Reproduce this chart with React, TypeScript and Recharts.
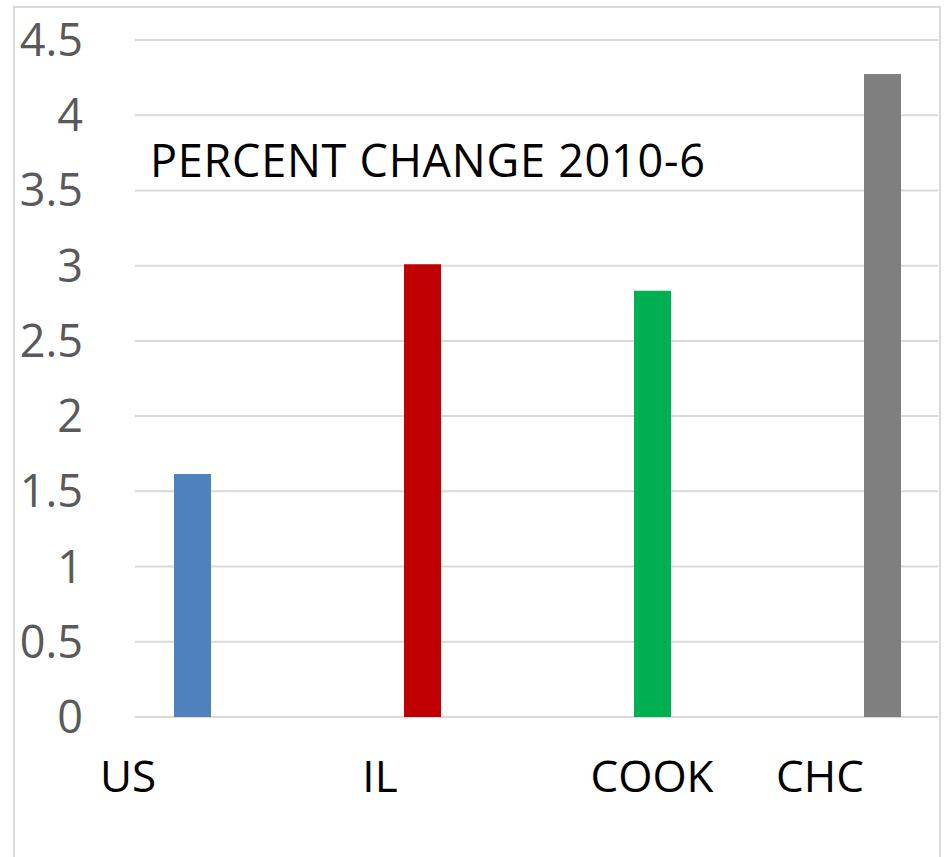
import React from "react";
import { BarChart, Bar, XAxis, YAxis, CartesianGrid, Cell } from "recharts";

const regions = ["US", "IL", "COOK", "CHC"];
const percentChange = [1.615, 3.01, 2.834, 4.274];
const barColors = ["#4f81bd", "#c00000", "#00b050", "#7f7f7f"];
const yTicks = [0, 0.5, 1, 1.5, 2, 2.5, 3, 3.5, 4, 4.5];

// the excel labels don't sit under their bars, nudge them by hand
const labelNudge = [-64, -42, 0, -62];

const FONT = "'Open Sans', 'Noto Sans', sans-serif";

const chartData = regions.map((name, i) => ({ name, value: percentChange[i] }));

const XTick: React.FC<any> = ({ x, y, payload, index }) => (
    <text
        x={x + (labelNudge[index] ?? 0)}
        y={y + 75}
        textAnchor="middle"
        fill="#000"
        fontFamily={FONT}
        fontSize={44}
    >
        {payload.value}
    </text>
);

export default function App() {
    return (
        <div style={{ position: "absolute", left: 0, top: 0, width: 945, height: 857, overflow: "hidden", background: "#fff" }}>
            <div
                style={{
                    position: "absolute",
                    left: 13,
                    top: 6,
                    width: 924,
                    height: 880,
                    border: "2px solid #d9d9d9",
                }}
            />
            <div style={{ position: "absolute", left: 0, top: 0 }}>
                <BarChart
                    width={945}
                    height={857}
                    data={chartData}
                    margin={{ top: 40, right: 7, left: 0, bottom: 0 }}
                >
                    <CartesianGrid vertical={false} stroke="#d9d9d9" strokeWidth={2} />
                    <XAxis
                        dataKey="name"
                        axisLine={false}
                        tickLine={false}
                        tickSize={0}
                        tickMargin={0}
                        padding={{ left: -58, right: -59 }}
                        interval={0}
                        tick={<XTick />}
                        height={140}
                    />
                    <YAxis
                        domain={[0, 4.5]}
                        ticks={yTicks}
                        width={135}
                        axisLine={false}
                        tickLine={false}
                        tickSize={0}
                        tickMargin={52}
                        interval={0}
                        tick={{ fill: "#595959", fontFamily: FONT, fontSize: 45 }}
                    />
                    <Bar dataKey="value" barSize={37} isAnimationActive={false}>
                        {chartData.map((d, i) => (
                            <Cell key={d.name} fill={barColors[i]} />
                        ))}
                    </Bar>
                </BarChart>
            </div>
            <svg width={945} height={857} style={{ position: "absolute", left: 0, top: 0, pointerEvents: "none" }}>
                <text
                    x={150}
                    y={177}
                    fontFamily={FONT}
                    fontSize={45}
                    fill="#000"
                    textLength={555}
                    lengthAdjust="spacing"
                >
                    PERCENT CHANGE 2010-6
                </text>
            </svg>
        </div>
    );
}
